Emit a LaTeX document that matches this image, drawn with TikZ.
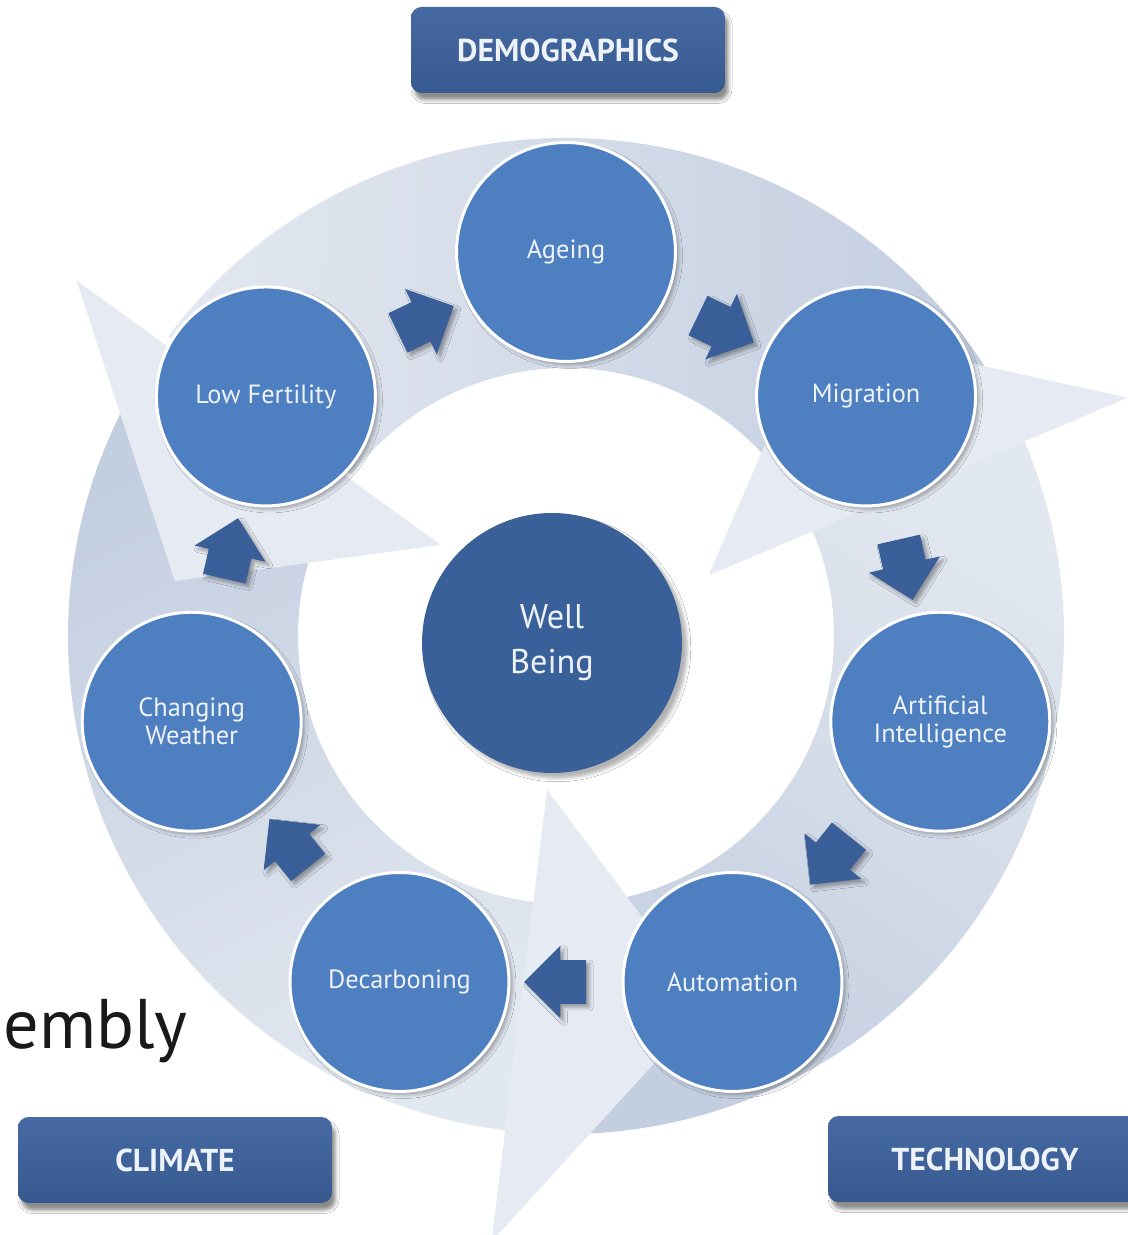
\documentclass[tikz,border=0pt]{standalone}
\usepackage{fontspec}
\setmainfont{PT Sans}
\usepackage{xcolor}
\usepackage{tikz}
\usetikzlibrary{shapes.arrows,shadows.blur}

\definecolor{ringdark}{HTML}{C3CEE0}
\definecolor{ringlight}{HTML}{E2E8F0}
\definecolor{headfill}{HTML}{E6EAF2}
\definecolor{topicblue}{HTML}{4E7FC0}
\definecolor{coreblue}{HTML}{3A6099}
\definecolor{stepblue}{HTML}{3A5E97}
\definecolor{boxtop}{HTML}{4669A3}
\definecolor{boxbot}{HTML}{365A8F}
\definecolor{labelwhite}{HTML}{EEF2F9}

\tikzset{
  topic/.style={circle,minimum size=4.38cm,fill=topicblue,draw=white,line width=1.7pt,
    text=labelwhite,align=center,font=\fontsize{15}{16}\selectfont,
    blur shadow={shadow xshift=2pt,shadow yshift=-2pt,shadow opacity=30}},
  core/.style={circle,minimum size=5.2cm,fill=coreblue,text=labelwhite,align=center,
    font=\fontsize{19.5}{25.5}\selectfont,
    blur shadow={shadow xshift=3pt,shadow yshift=-3pt,shadow opacity=30}},
  steparrow/.style={single arrow,fill=stepblue,inner xsep=0pt,inner ysep=0.43cm,
    minimum height=1.24cm,single arrow head extend=0.29cm,single arrow head indent=0pt,
    sloped,allow upside down,
    blur shadow={shadow xshift=2pt,shadow yshift=-2pt,shadow opacity=35}},
  heading/.style={rectangle,rounded corners=6pt,minimum width=6.28cm,minimum height=1.72cm,
    top color=boxtop,bottom color=boxbot,text=labelwhite,
    font=\bfseries\fontsize{18}{20}\selectfont,
    blur shadow={shadow xshift=2pt,shadow yshift=-4pt,shadow opacity=45}}
}

\begin{document}
\begin{tikzpicture}[x=0.02cm,y=0.02cm]
  \path[use as bounding box,clip] (0,0) rectangle (1128,1235);
  \fill[white] (0,0) rectangle (1128,1235);

  \begin{scope}[shift={(566,599)}]
    \shade[top color=ringdark,bottom color=ringlight,shading angle=146.5]
      (270:268) arc[start angle=270,end angle=383,radius=268] -- (383:498)
      arc[start angle=383,end angle=270,radius=498] -- cycle;
    \shade[top color=ringdark,bottom color=ringlight,shading angle=-93.4]
      (30:268) arc[start angle=30,end angle=143,radius=268] -- (143:498)
      arc[start angle=143,end angle=30,radius=498] -- cycle;
    \shade[top color=ringdark,bottom color=ringlight,shading angle=26.5]
      (150:268) arc[start angle=150,end angle=263,radius=268] -- (263:498)
      arc[start angle=263,end angle=150,radius=498] -- cycle;

    \fill[headfill] (23:155) -- (23:610) -- (51:395) -- cycle;
    \fill[headfill] (144:155) -- (144:605) -- (172:395) -- cycle;
    \fill[headfill] (263:155) -- (263:610) -- (291:395) -- cycle;

    \node[core] (wb) at (-14,-7) {Well\\Being};

    \node[topic] (ag) at (90:384) {Ageing};
    \node[topic] (mi) at (38.6:384) {Migration};
    \node[topic] (ai) at (-12.9:384) {Artificial\\Intelligence};
    \node[topic] (au) at (-64.3:384) {Automation};
    \node[topic] (de) at (-115.7:384) {Decarboning};
    \node[topic] (cw) at (-167.1:384) {Changing\\Weather};
    \node[topic] (lf) at (141.4:384) {Low Fertility};

    \path (ag) -- node[steparrow] {} (mi);
    \path (mi) -- node[steparrow] {} (ai);
    \path (ai) -- node[steparrow] {} (au);
    \path (au) -- node[steparrow] {} (de);
    \path (de) -- node[steparrow] {} (cw);
    \path (cw) -- node[steparrow] {} (lf);
    \path (lf) -- node[steparrow] {} (ag);
  \end{scope}

  \node[heading] (demo) at (568,1185) {DEMOGRAPHICS};
  \node[heading] (clim) at (175,75) {CLIMATE};
  \node[heading] (tech) at (985,76) {TECHNOLOGY};

  \node[anchor=base west,inner sep=0pt,font=\fontsize{40}{40}\selectfont,text=black!90] (title) at (3,186) {embly};
\end{tikzpicture}
\end{document}
